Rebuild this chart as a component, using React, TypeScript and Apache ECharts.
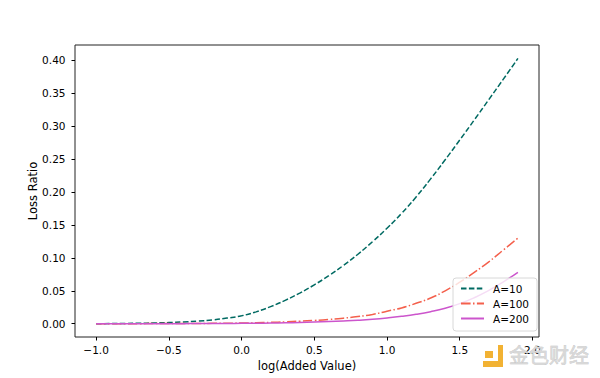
import React, { useEffect, useRef } from "react";
import * as echarts from "echarts";

const logX = [-1.0, -0.9, -0.8, -0.7, -0.6, -0.5, -0.4, -0.3, -0.2, -0.1, 0.0, 0.1, 0.2, 0.3, 0.4, 0.5, 0.6, 0.7, 0.8, 0.9, 1.0, 1.1, 1.2, 1.3, 1.4, 1.5, 1.6, 1.7, 1.8, 1.9];
const a10 = [0.0000, 0.0002, 0.0004, 0.0007, 0.0011, 0.0017, 0.0027, 0.0040, 0.0058, 0.0085, 0.0120, 0.0180, 0.0260, 0.0355, 0.0465, 0.0590, 0.0730, 0.0885, 0.1055, 0.1245, 0.1450, 0.1675, 0.1925, 0.2200, 0.2490, 0.2790, 0.3095, 0.3405, 0.3715, 0.4030];
const a100 = [0.0000, 0.0000, 0.0001, 0.0001, 0.0002, 0.0002, 0.0003, 0.0004, 0.0005, 0.0007, 0.0010, 0.0014, 0.0020, 0.0028, 0.0038, 0.0050, 0.0065, 0.0084, 0.0108, 0.0140, 0.0190, 0.0240, 0.0310, 0.0390, 0.0500, 0.0630, 0.0780, 0.0940, 0.1120, 0.1300];
const a200 = [0.0000, 0.0000, 0.0000, 0.0001, 0.0001, 0.0001, 0.0001, 0.0002, 0.0002, 0.0003, 0.0005, 0.0007, 0.0010, 0.0014, 0.0019, 0.0025, 0.0032, 0.0041, 0.0052, 0.0067, 0.0087, 0.0112, 0.0143, 0.0183, 0.0235, 0.0305, 0.0395, 0.0505, 0.0635, 0.0780];
const seriesNames = ["A=10", "A=100", "A=200"];
const xTicks = [-1.0, -0.5, 0.0, 0.5, 1.0, 1.5, 2.0];
const yTicks = [0.0, 0.05, 0.1, 0.15, 0.2, 0.25, 0.3, 0.35, 0.4];

const FONT = "DejaVu Sans";

export default function App() {
  const ref = useRef<HTMLDivElement>(null);
  useEffect(() => {
    if (!ref.current) return;
    const chart = echarts.init(ref.current, null, { renderer: "svg" });
    const pair = (ys: number[]) => logX.map((x, i) => [x, ys[i]]);
    const fmtX = (v: number) => v.toFixed(1).replace("-", "\u2212");
    const fmtY = (v: number) => v.toFixed(2).replace("-", "\u2212");
    chart.setOption({
      animation: false,
      backgroundColor: "#fff",
      grid: {
        left: 75,
        right: 61,
        top: 45,
        bottom: 41,
        show: true,
        borderColor: "#222",
        borderWidth: 1,
        containLabel: false,
      },
      xAxis: {
        type: "value",
        min: -1.145,
        max: 2.045,
        name: "log(Added Value)",
        nameLocation: "middle",
        nameGap: 20,
        nameTextStyle: { fontFamily: FONT, fontSize: 11.5, color: "#000" },
        axisLine: { show: false, onZero: false },
        splitLine: { show: false },
        axisTick: { show: true, length: 3.5, customValues: xTicks, lineStyle: { color: "#000" } },
        axisLabel: {
          customValues: xTicks,
          formatter: fmtX,
          fontFamily: FONT,
          fontSize: 10.5,
          color: "#000",
          margin: 7.5,
        },
      },
      yAxis: {
        type: "value",
        min: -0.0202,
        max: 0.4234,
        name: "Loss Ratio",
        nameLocation: "middle",
        nameGap: 36,
        nameMoveOverlap: false,
        nameTextStyle: { fontFamily: FONT, fontSize: 11.5, color: "#000" },
        axisLine: { show: false, onZero: false },
        splitLine: { show: false },
        axisTick: { show: true, length: 3.5, customValues: yTicks, lineStyle: { color: "#000" } },
        axisLabel: {
          customValues: yTicks,
          formatter: fmtY,
          fontFamily: FONT,
          fontSize: 10.5,
          color: "#000",
          margin: 9.5,
        },
      },
      legend: {
        orient: "vertical",
        left: 453,
        top: 278,
        z: 10,
        data: seriesNames,
        itemWidth: 23,
        itemHeight: 10,
        itemGap: 2,
        padding: [4, 8, 6, 7],
        backgroundColor: "rgba(255,255,255,0.8)",
        borderColor: "#d8d8d8",
        borderWidth: 1,
        borderRadius: 3,
        itemStyle: { opacity: 0 },
        textStyle: { fontFamily: FONT, fontSize: 10.5, color: "#000", lineHeight: 13, padding: [0, 0, 0, 4] },
      },
      series: [
        {
          name: seriesNames[0],
          type: "line",
          data: pair(a10),
          symbol: "none",
          smooth: true,
          lineStyle: { color: "#006a62", width: 1.5, type: [5.5, 2.4] },
          itemStyle: { color: "#006a62" },
        },
        {
          name: seriesNames[1],
          type: "line",
          data: pair(a100),
          symbol: "none",
          smooth: true,
          lineStyle: { color: "#f4604c", width: 1.5, type: [9.6, 2.4, 1.5, 2.4] },
          itemStyle: { color: "#f4604c" },
        },
        {
          name: seriesNames[2],
          type: "line",
          data: pair(a200),
          symbol: "none",
          smooth: true,
          lineStyle: { color: "#cc55cc", width: 1.5 },
          itemStyle: { color: "#cc55cc" },
        },
      ],
      graphic: [
        { type: "rect", shape: { x: 498, y: 345, width: 5, height: 22 }, style: { fill: "#f2b233" }, z: 20 },
        { type: "rect", shape: { x: 483, y: 361, width: 20, height: 6 }, style: { fill: "#f2b233" }, z: 20 },
        { type: "rect", shape: { x: 485, y: 351, width: 8, height: 7 }, style: { fill: "#f2b233" }, z: 20 },
        {
          type: "text",
          x: 509,
          y: 344,
          z: 20,
          style: {
            text: "金色财经",
            font: "20px 'Noto Sans CJK SC'",
            fill: "#d8d8d8",
            stroke: "#bdbdbd",
            lineWidth: 0.5,
          },
        },
      ],
    });
    return () => chart.dispose();
  }, []);
  return <div ref={ref} style={{ position: "absolute", left: 0, top: 0, width: 600, height: 378 }} />;
}
